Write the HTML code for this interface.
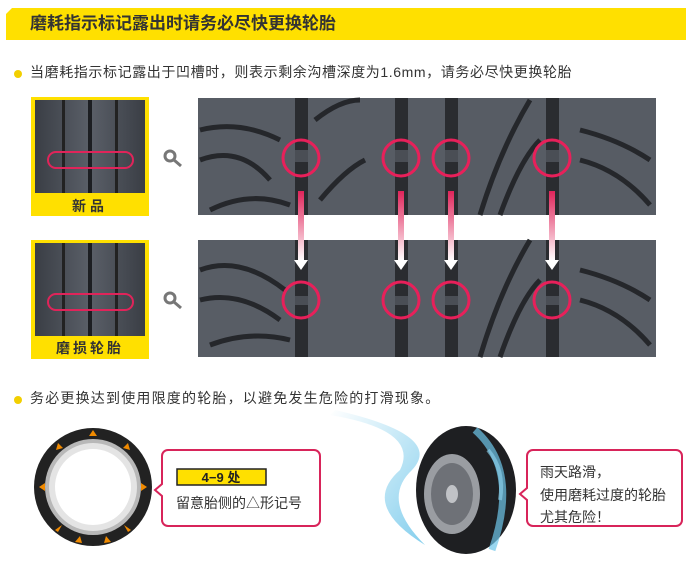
<!DOCTYPE html>
<html><head><meta charset="utf-8"><style>
body{margin:0;width:692px;height:569px;background:#fff;position:relative;overflow:hidden;font-family:"Liberation Sans","Noto Sans CJK SC",sans-serif;}
.a{position:absolute}
</style></head><body>
<div class="a" style="left:6px;top:8px;width:680px;height:32px;background:#ffe000;clip-path:polygon(6px 0,100% 0,100% 100%,0 100%,0 6px)"></div>
<div class="a" style="left:30px;top:12px;font-size:17px;color:#333;font-weight:bold;line-height:24px">磨耗指示标记露出时请务必尽快更换轮胎</div>
<div class="a" style="left:14px;top:70px;width:8px;height:8px;border-radius:50%;background:#f2cf00"></div>
<div class="a" style="left:30px;top:62px;font-size:14px;letter-spacing:0.6px;color:#333;line-height:20px;white-space:nowrap">当磨耗指示标记露出于凹槽时，则表示剩余沟槽深度为1.6mm，请务必尽快更换轮胎</div>
<div class="a" style="left:14px;top:396px;width:8px;height:8px;border-radius:50%;background:#f2cf00"></div>
<div class="a" style="left:30px;top:388px;font-size:14px;letter-spacing:1.2px;color:#333;line-height:20px;white-space:nowrap">务必更换达到使用限度的轮胎，以避免发生危险的打滑现象。</div>

<svg class="a" style="left:0;top:0" width="692" height="569">
<defs>
<linearGradient id="ar" x1="0" y1="0" x2="0" y2="1"><stop offset="0" stop-color="#e0245a"/><stop offset="1" stop-color="#fff"/></linearGradient>
<linearGradient id="tr" x1="0" y1="0" x2="1" y2="0"><stop offset="0" stop-color="#3a3e45"/><stop offset=".5" stop-color="#5a5f68"/><stop offset="1" stop-color="#3a3e45"/></linearGradient>
<linearGradient id="sw" x1="0" y1="0" x2="1" y2="1"><stop offset="0" stop-color="#fff"/><stop offset="1" stop-color="#6ec6ea"/></linearGradient>
</defs>
<rect x="31" y="97" width="118" height="119" fill="#ffe000"/>
<rect x="35" y="100" width="110" height="93" fill="url(#tr)"/>
<rect x="88" y="100" width="4" height="93" fill="#1c1e22"/><rect x="62" y="100" width="3" height="93" fill="#222"/><rect x="115" y="100" width="3" height="93" fill="#222"/>
<rect x="48" y="152" width="85" height="16" rx="8" fill="none" stroke="#e0245a" stroke-width="2"/>
<rect x="31" y="240" width="118" height="119" fill="#ffe000"/>
<rect x="35" y="243" width="110" height="93" fill="url(#tr)"/>
<rect x="88" y="243" width="4" height="93" fill="#1c1e22"/><rect x="62" y="243" width="3" height="93" fill="#222"/><rect x="115" y="243" width="3" height="93" fill="#222"/>
<rect x="48" y="294" width="85" height="16" rx="8" fill="none" stroke="#e0245a" stroke-width="2"/>
<text x="90" y="211" font-size="14" font-weight="bold" fill="#333" text-anchor="middle" letter-spacing="4">新品</text>
<text x="90" y="353" font-size="14" font-weight="bold" fill="#333" text-anchor="middle" letter-spacing="3">磨损轮胎</text>
<g stroke="#777" stroke-width="3" fill="none"><circle cx="170" cy="156" r="5"/><line x1="174" y1="160" x2="181" y2="166"/><circle cx="170" cy="298" r="5"/><line x1="174" y1="302" x2="181" y2="308"/></g>
<rect x="198" y="98" width="458" height="117" fill="#575c64"/>
<rect x="198" y="240" width="458" height="117" fill="#585d65"/>
<g fill="none" stroke="#25272b" stroke-width="5">
<path d="M200 130 Q240 120 280 140"/><path d="M200 160 Q240 145 270 180"/><path d="M210 210 Q250 190 290 205"/>
<path d="M315 120 Q340 100 360 100"/><path d="M320 200 Q345 170 365 160"/>
<path d="M480 215 Q500 150 530 100"/><path d="M500 215 Q520 160 540 140"/>
<path d="M580 130 Q620 140 650 160"/><path d="M580 160 Q620 170 650 205"/>
<path d="M200 270 Q240 255 285 290"/><path d="M200 300 Q240 290 280 320"/><path d="M210 345 Q250 330 290 340"/>
<path d="M480 357 Q500 290 530 240"/><path d="M500 357 Q520 300 540 280"/>
<path d="M580 270 Q620 280 650 300"/><path d="M580 300 Q620 310 650 345"/>
</g>
<g fill="#2a2c30">
<rect x="295" y="98" width="13" height="117"/><rect x="395" y="98" width="13" height="117"/><rect x="445" y="98" width="13" height="117"/><rect x="546" y="98" width="13" height="117"/>
<rect x="295" y="240" width="13" height="117"/><rect x="395" y="240" width="13" height="117"/><rect x="445" y="240" width="13" height="117"/><rect x="546" y="240" width="13" height="117"/>
</g>
<g fill="#4a4e55">
<rect x="295" y="150" width="13" height="12"/><rect x="395" y="150" width="13" height="12"/><rect x="445" y="150" width="13" height="12"/><rect x="546" y="150" width="13" height="12"/>
<rect x="295" y="296" width="13" height="9"/><rect x="395" y="296" width="13" height="9"/><rect x="445" y="296" width="13" height="9"/><rect x="546" y="296" width="13" height="9"/>
</g>
<g fill="none" stroke="#e8205a" stroke-width="3">
<circle cx="301" cy="158" r="18"/><circle cx="401" cy="158" r="18"/><circle cx="451" cy="158" r="18"/><circle cx="552" cy="158" r="18"/>
<circle cx="301" cy="300" r="18"/><circle cx="401" cy="300" r="18"/><circle cx="451" cy="300" r="18"/><circle cx="552" cy="300" r="18"/>
</g>
<g fill="url(#ar)">
<rect x="298" y="191" width="6" height="70"/><rect x="398" y="191" width="6" height="70"/><rect x="448" y="191" width="6" height="70"/><rect x="549" y="191" width="6" height="70"/>
</g>
<g fill="#fff">
<polygon points="294,260 308,260 301,270"/><polygon points="394,260 408,260 401,270"/><polygon points="444,260 458,260 451,270"/><polygon points="545,260 559,260 552,270"/>
</g>
<circle cx="93" cy="487" r="59" fill="#222"/>
<circle cx="93" cy="487" r="48" fill="#b8b8b8"/>
<circle cx="93" cy="487" r="44" fill="#e4e4e4"/>
<circle cx="93" cy="487" r="38" fill="#fff"/>
<g fill="#f08a00">
<polygon points="93,430 89,436 97,436"/><polygon points="58,443 56,450 63,448"/><polygon points="128,443 123,448 130,450"/>
<polygon points="39,487 45,483 45,491"/><polygon points="147,487 141,483 141,491"/>
<polygon points="55,530 62,525 58,532"/><polygon points="131,530 124,525 128,532"/><polygon points="75,542 80,536 82,543"/><polygon points="111,542 106,536 104,543"/>
</g>
<path d="M330 415 Q420 430 400 470 Q360 505 425 545 Q380 500 412 470 Q445 435 335 410Z" fill="url(#sw)" opacity=".85"/>
<ellipse cx="466" cy="490" rx="50" ry="64" fill="#1e1f22"/>
<ellipse cx="452" cy="494" rx="28" ry="40" fill="#9a9da2"/>
<ellipse cx="452" cy="494" rx="21" ry="31" fill="#6e7177"/>
<ellipse cx="452" cy="494" rx="6" ry="9" fill="#c0c2c6"/>
<path d="M475 430 Q520 470 492 550" stroke="#6ec6ea" stroke-width="7" fill="none" opacity=".7"/>
<path d="M488 450 Q505 470 500 500" stroke="#8fd3ee" stroke-width="4" fill="none" opacity=".6"/>
<path d="M168 450 H314 a6 6 0 0 1 6 6 V520 a6 6 0 0 1 -6 6 H168 a6 6 0 0 1 -6 -6 V496 L155 490 L162 484 V456 a6 6 0 0 1 6 -6Z" fill="#fff" stroke="#d8245a" stroke-width="2"/>
<rect x="177" y="469" width="89" height="16" fill="#ffe000" stroke="#222" stroke-width="1.5"/>
<text x="221" y="482" font-size="13" font-weight="bold" fill="#222" text-anchor="middle">4−9 处</text>
<text x="176" y="508" font-size="14" fill="#333">留意胎侧的△形记号</text>
<path d="M533 450 H676 a6 6 0 0 1 6 6 V520 a6 6 0 0 1 -6 6 H533 a6 6 0 0 1 -6 -6 V500 L520 494 L527 488 V456 a6 6 0 0 1 6 -6Z" fill="#fff" stroke="#d8245a" stroke-width="2"/>
<text x="540" y="477" font-size="14" fill="#333">雨天路滑，</text>
<text x="540" y="500" font-size="14" fill="#333">使用磨耗过度的轮胎</text>
<text x="540" y="522" font-size="14" fill="#333">尤其危险！</text>
</svg>
</body></html>
